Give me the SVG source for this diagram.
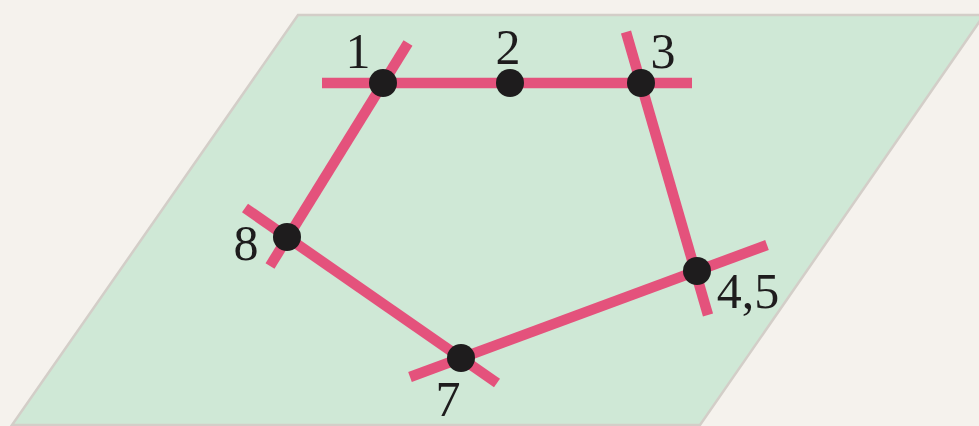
<svg xmlns="http://www.w3.org/2000/svg" width="979" height="426" viewBox="0 0 979 426">
<style>
.plane{fill:#cfe8d6;stroke:#d3cec8;stroke-width:2.5}
.ln{stroke:#e4527c;stroke-width:10.5;fill:none}
.pt{fill:#1e1c1d}
.lb{font-family:"Liberation Serif","DejaVu Serif",serif;font-size:50px;fill:#1e1c1d;text-anchor:middle}
</style>
<rect width="979" height="426" fill="#f5f2ed"/>
<polygon class="plane" points="298,15 984,15 700,425 12,425"/>
<g id="connectors">
<line class="ln" x1="322" y1="83" x2="692" y2="83"/>
<line class="ln" x1="408" y1="43" x2="270" y2="266"/>
<line class="ln" x1="626" y1="32" x2="708" y2="315"/>
<line class="ln" x1="245" y1="208" x2="497" y2="383"/>
<line class="ln" x1="410" y1="377" x2="767" y2="245"/>
</g>
<g id="n1"><circle class="pt" cx="383" cy="83" r="14"/><text class="lb" x="358" y="68">1</text></g>
<g id="n2"><circle class="pt" cx="510" cy="83" r="14"/><text class="lb" x="508" y="64">2</text></g>
<g id="n3"><circle class="pt" cx="641" cy="83" r="14"/><text class="lb" x="663" y="68">3</text></g>
<g id="n8"><circle class="pt" cx="287" cy="237" r="14"/><text class="lb" x="246" y="260">8</text></g>
<g id="n7"><circle class="pt" cx="461" cy="358" r="14"/><text class="lb" x="448" y="416">7</text></g>
<g id="n45"><circle class="pt" cx="697" cy="271" r="14"/><text class="lb" x="748" y="308">4,5</text></g>
</svg>
